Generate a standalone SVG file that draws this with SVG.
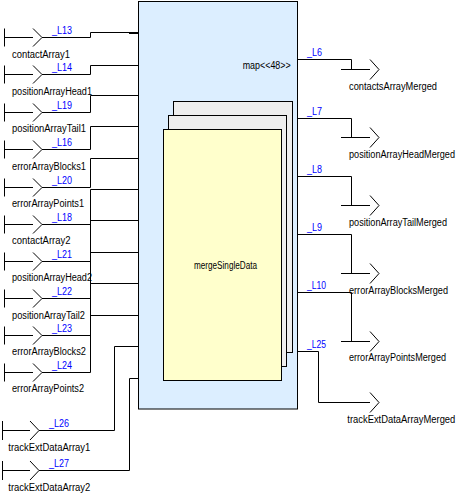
<svg xmlns="http://www.w3.org/2000/svg" width="464" height="494" viewBox="0 0 464 494">
<style>
.w{stroke:#000;stroke-width:1;fill:none}
.t{font-family:"Liberation Sans",Arial,sans-serif;font-size:10px;fill:#000}
.b{font-family:"Liberation Sans",Arial,sans-serif;font-size:10px;fill:#0000FF}
</style>
<rect width="464" height="494" fill="#fff"/>
<g id="mapBlock">
<rect x="138.5" y="1.5" width="159" height="407.5" fill="#DCEEFF" stroke="#000"/>
<text class="t" x="242.7" y="68.5" textLength="48" lengthAdjust="spacingAndGlyphs">map&lt;&lt;48&gt;&gt;</text>
</g>
<g id="mergeSingleData">
<rect x="173.5" y="101.5" width="119" height="251" fill="#EEEEEE" stroke="#000"/>
<rect x="168.5" y="115.5" width="118" height="251" fill="#EEEEEE" stroke="#000"/>
<rect x="163.5" y="129.5" width="118" height="251" fill="#FFFFCC" stroke="#000"/>
<text class="t" x="194" y="269" textLength="63" lengthAdjust="spacingAndGlyphs">mergeSingleData</text>
</g>
<g id="inputs">
<g id="in_contactArray1"><path class="w" d="M4.5,28.5V46.5M4.5,37.5H33M33,28.5L42,37.5L33,46.5"/><text class="t" x="12" y="57.5" textLength="58" lengthAdjust="spacingAndGlyphs">contactArray1</text></g>
<g id="in_positionArrayHead1"><path class="w" d="M4.5,65.5V83.5M4.5,74.5H33M33,65.5L42,74.5L33,83.5"/><text class="t" x="12" y="94.5" textLength="80" lengthAdjust="spacingAndGlyphs">positionArrayHead1</text></g>
<g id="in_positionArrayTail1"><path class="w" d="M4.5,103.5V121.5M4.5,112.5H33M33,103.5L42,112.5L33,121.5"/><text class="t" x="12" y="132" textLength="74" lengthAdjust="spacingAndGlyphs">positionArrayTail1</text></g>
<g id="in_errorArrayBlocks1"><path class="w" d="M4.5,140.5V158.5M4.5,149.5H33M33,140.5L42,149.5L33,158.5"/><text class="t" x="12" y="170" textLength="74" lengthAdjust="spacingAndGlyphs">errorArrayBlocks1</text></g>
<g id="in_errorArrayPoints1"><path class="w" d="M4.5,178.5V196.5M4.5,187.5H33M33,178.5L42,187.5L33,196.5"/><text class="t" x="12" y="207" textLength="72" lengthAdjust="spacingAndGlyphs">errorArrayPoints1</text></g>
<g id="in_contactArray2"><path class="w" d="M4.5,215.5V233.5M4.5,224.5H33M33,215.5L42,224.5L33,233.5"/><text class="t" x="12" y="243.5" textLength="58.5" lengthAdjust="spacingAndGlyphs">contactArray2</text></g>
<g id="in_positionArrayHead2"><path class="w" d="M4.5,252.5V270.5M4.5,261.5H33M33,252.5L42,261.5L33,270.5"/><text class="t" x="12" y="281" textLength="80" lengthAdjust="spacingAndGlyphs">positionArrayHead2</text></g>
<g id="in_positionArrayTail2"><path class="w" d="M4.5,289.5V307.5M4.5,298.5H33M33,289.5L42,298.5L33,307.5"/><text class="t" x="12" y="318.5" textLength="73" lengthAdjust="spacingAndGlyphs">positionArrayTail2</text></g>
<g id="in_errorArrayBlocks2"><path class="w" d="M4.5,326.5V344.5M4.5,335.5H33M33,326.5L42,335.5L33,344.5"/><text class="t" x="12" y="354.5" textLength="74" lengthAdjust="spacingAndGlyphs">errorArrayBlocks2</text></g>
<g id="in_errorArrayPoints2"><path class="w" d="M4.5,363.5V381.5M4.5,372.5H33M33,363.5L42,372.5L33,381.5"/><text class="t" x="12" y="391.5" textLength="72" lengthAdjust="spacingAndGlyphs">errorArrayPoints2</text></g>
<g id="in_trackExtDataArray1"><path class="w" d="M2.5,421V440M2.5,430.5H30M30,421L39,430.5L30,440"/><text class="t" x="8.3" y="450.5" textLength="82" lengthAdjust="spacingAndGlyphs">trackExtDataArray1</text></g>
<g id="in_trackExtDataArray2"><path class="w" d="M2.5,461V480M2.5,470.5H30M30,461L39,470.5L30,480"/><text class="t" x="8.3" y="491" textLength="82" lengthAdjust="spacingAndGlyphs">trackExtDataArray2</text></g>
</g>
<g id="outputs">
<g id="out_contactsArrayMerged"><path class="w" d="M370,59.5L379,69.5L370,79.5"/><text class="t" x="349" y="89.5" textLength="88" lengthAdjust="spacingAndGlyphs">contactsArrayMerged</text></g>
<g id="out_positionArrayHeadMerged"><path class="w" d="M370,127.5L379,137.5L370,147.5"/><text class="t" x="349" y="157.5" textLength="106" lengthAdjust="spacingAndGlyphs">positionArrayHeadMerged</text></g>
<g id="out_positionArrayTailMerged"><path class="w" d="M370,195.5L379,205.5L370,215.5"/><text class="t" x="349" y="226" textLength="98" lengthAdjust="spacingAndGlyphs">positionArrayTailMerged</text></g>
<g id="out_errorArrayBlocksMerged"><path class="w" d="M370,263.5L379,273.5L370,283.5"/><text class="t" x="349" y="293.5" textLength="99" lengthAdjust="spacingAndGlyphs">errorArrayBlocksMerged</text></g>
<g id="out_errorArrayPointsMerged"><path class="w" d="M370,331.5L379,341.5L370,351.5"/><text class="t" x="349" y="361" textLength="97" lengthAdjust="spacingAndGlyphs">errorArrayPointsMerged</text></g>
<g id="out_trackExtDataArrayMerged"><path class="w" d="M370,392.5L379,402.5L370,412.5"/><text class="t" x="347.3" y="422.5" textLength="108" lengthAdjust="spacingAndGlyphs">trackExtDataArrayMerged</text></g>
</g>
<g id="connectors">
<path class="w" d="M42,37.5H90.5V32.5H138"/>
<path d="M129,33H138" stroke="#000" stroke-width="2"/>
<path class="w" d="M42,74.5H90.5V65.5H138"/>
<path class="w" d="M42,112.5H90.5V95.5H138"/>
<path class="w" d="M42,149.5H90.5V126.5H138"/>
<path class="w" d="M42,187.5H90.5V158.5H138"/>
<path class="w" d="M42,224.5H90.5V189.5H138"/>
<path class="w" d="M42,261.5H90.5V220.5H138"/>
<path class="w" d="M42,298.5H90.5V252.5H138"/>
<path class="w" d="M42,335.5H90.5V283.5H138"/>
<path class="w" d="M42,372.5H90.5V315.5H138"/>
<path class="w" d="M39,430.5H114.5V346.5H138"/>
<path class="w" d="M39,470.5H129.5V378.5H138"/>
<path class="w" d="M297.5,59.5H351.5V69.5M341,69.5H370"/>
<path class="w" d="M297.5,118.5H351.5V137.5M341,137.5H370"/>
<path class="w" d="M297.5,176.5H351.5V205.5M341,205.5H370"/>
<path class="w" d="M297.5,234.5H351.5V273.5M341,273.5H370"/>
<path class="w" d="M297.5,292.5H351.5V341.5M341,341.5H370"/>
<path class="w" d="M297.5,351.5H318.5V402.5H370"/>
<text class="b" x="52" y="34" textLength="20" lengthAdjust="spacingAndGlyphs">_L13</text>
<text class="b" x="52" y="71" textLength="20" lengthAdjust="spacingAndGlyphs">_L14</text>
<text class="b" x="52" y="109" textLength="20" lengthAdjust="spacingAndGlyphs">_L19</text>
<text class="b" x="52" y="146" textLength="20" lengthAdjust="spacingAndGlyphs">_L16</text>
<text class="b" x="52" y="184" textLength="20" lengthAdjust="spacingAndGlyphs">_L20</text>
<text class="b" x="52" y="221" textLength="20" lengthAdjust="spacingAndGlyphs">_L18</text>
<text class="b" x="52" y="258" textLength="20" lengthAdjust="spacingAndGlyphs">_L21</text>
<text class="b" x="52" y="295" textLength="20" lengthAdjust="spacingAndGlyphs">_L22</text>
<text class="b" x="52" y="332" textLength="20" lengthAdjust="spacingAndGlyphs">_L23</text>
<text class="b" x="52" y="369" textLength="20" lengthAdjust="spacingAndGlyphs">_L24</text>
<text class="b" x="49" y="427" textLength="20" lengthAdjust="spacingAndGlyphs">_L26</text>
<text class="b" x="49" y="467" textLength="20" lengthAdjust="spacingAndGlyphs">_L27</text>
<text class="b" x="307" y="56" textLength="15" lengthAdjust="spacingAndGlyphs">_L6</text>
<text class="b" x="307" y="115" textLength="15" lengthAdjust="spacingAndGlyphs">_L7</text>
<text class="b" x="307" y="173" textLength="15" lengthAdjust="spacingAndGlyphs">_L8</text>
<text class="b" x="307" y="231" textLength="15" lengthAdjust="spacingAndGlyphs">_L9</text>
<text class="b" x="307" y="289" textLength="19" lengthAdjust="spacingAndGlyphs">_L10</text>
<text class="b" x="307" y="348" textLength="19" lengthAdjust="spacingAndGlyphs">_L25</text>
</g>
</svg>
